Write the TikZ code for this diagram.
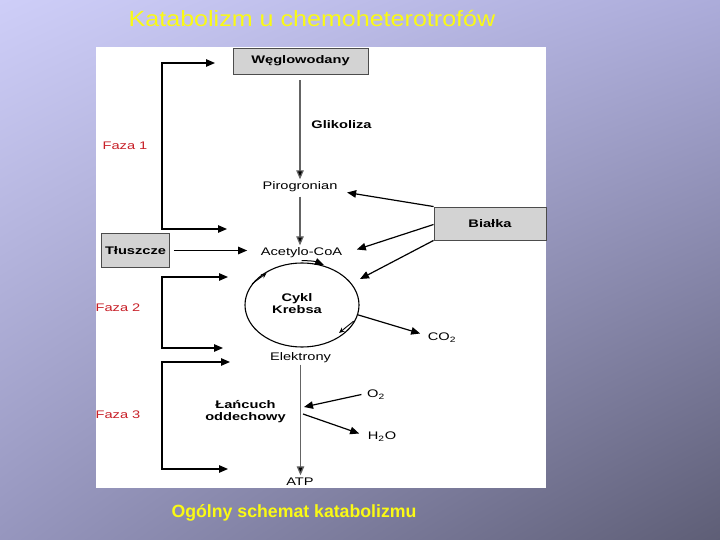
\documentclass[tikz,border=0pt]{standalone}
\usepackage{fontspec}
\setmainfont{Liberation Sans}
\usetikzlibrary{arrows.meta,shapes.geometric,calc,shadings}
\newcommand{\xst}[1]{\scalebox{1.33}[1]{#1}}
\definecolor{bgUL}{RGB}{206,206,248}
\definecolor{bgUR}{RGB}{172,172,218}
\definecolor{bgLL}{RGB}{150,150,190}
\definecolor{bgLR}{RGB}{94,94,118}
\definecolor{ttl}{RGB}{250,250,20}
\definecolor{faza}{RGB}{200,32,40}
\definecolor{boxfill}{RGB}{211,211,211}
\definecolor{vline}{RGB}{100,100,100}
\tikzset{
  lbl/.style={font=\fontsize{11}{13}\selectfont, inner sep=1.5pt, text height=8.5pt, text depth=2.5pt, yshift=-1.5pt},
  blbl/.style={lbl, font=\fontsize{11}{13}\selectfont\bfseries},
  fz/.style={lbl, text=faza},
  grbox/.style={draw=black!70, fill=boxfill, line width=0.9pt, font=\fontsize{11}{13}\selectfont\bfseries},
  arr/.style={-{Triangle[length=9pt,width=7.5pt]}, line width=1.2pt},
  garr/.style={arr, draw=vline, -{Triangle[length=9pt,width=7.5pt,fill=black]}},
  brk/.style={{Triangle[length=9pt,width=7.5pt]}-{Triangle[length=9pt,width=7.5pt]}, line width=1.2pt},
  tick/.style={-{Stealth[length=5.5pt,width=5pt]}, line width=0.9pt}
}
\begin{document}
\begin{tikzpicture}[x=1pt,y=-1pt]
\useasboundingbox (0,0) rectangle (720,540);
\shade[upper left=bgUL, upper right=bgUR, lower left=bgLL, lower right=bgLR] (0,0) rectangle (720,540);
\fill[white] (96,47) rectangle (546,488);

% titles
\node[text=ttl, font=\fontsize{22}{26}\selectfont, inner sep=0pt] (title) at (312,19) {\scalebox{1.14}[1]{Katabolizm u chemoheterotrofów}};
\node[text=ttl, font=\fontsize{17.7}{21}\selectfont\bfseries, inner sep=0pt] (caption) at (294,513) {Ogólny schemat katabolizmu};

% boxes
\node[grbox, minimum width=135pt, minimum height=26pt] (wegl) at (300.5,61) {\xst{Węglowodany}};
\node[grbox, minimum width=112pt, minimum height=33pt] (bialka) at (490,223.5) {\xst{Białka}};
\node[grbox, minimum width=67pt, minimum height=34pt] (tlusz) at (135.5,250.5) {\xst{Tłuszcze}};

% labels
\node[blbl] (glik) at (341.5,124) {\xst{Glikoliza}};
\node[lbl] (piro) at (300,185) {\xst{Pirogronian}};
\node[lbl] (acet) at (301.5,251) {\xst{Acetylo-CoA}};
\node[draw, ellipse, line width=1.1pt, minimum width=114pt, minimum height=84pt, inner sep=0pt] (krebs) at (302,305) {};
\node[blbl, align=center, font=\fontsize{11}{12.5}\selectfont\bfseries] (cykl) at (297,309) {\xst{Cykl}\\\xst{Krebsa}};
\node[lbl] (elek) at (300.5,356) {\xst{Elektrony}};
\node[blbl, align=center, font=\fontsize{11}{12}\selectfont\bfseries] (lanc) at (245.5,416) {\xst{Łańcuch}\\\xst{oddechowy}};
\node[lbl] (atp) at (300,481) {\xst{ATP}};
\node[lbl] (o2) at (376,393) {\xst{O\textsubscript{2}}};
\node[lbl] (h2o) at (382,435) {\xst{H\textsubscript{2}O}};
\node[lbl] (co2) at (442,336) {\xst{CO\textsubscript{2}}};
\node[fz] (f1) at (125,145) {\xst{Faza 1}};
\node[fz] (f2) at (118,307) {\xst{Faza 2}};
\node[fz] (f3) at (118,414) {\xst{Faza 3}};

% main vertical chain
\coordinate (wb) at (wegl.south -| piro.north);
\draw[garr, shorten <=6pt] (wb) -- (piro.north);
\draw[garr, shorten <=3pt] (piro.south) -- (piro.south |- acet.north);
\draw[garr] (elek.south) -- (elek.south |- atp.north);

% side inputs
\draw[arr] (bialka.north west) -- ($(piro.east)+(8,6)$);
\draw[arr] ($(bialka.west)+(0,1)$) -- ($(acet.east)+(13,-3)$);
\draw[arr] (bialka.south west) -- ($(krebs.center)+(58,-26)$);
\draw[arr, shorten <=4pt, shorten >=12pt] (tlusz.east) -- (tlusz.east -| acet.west);

% Krebs cycle details
\draw[-{Triangle[length=9pt,width=7pt]}, line width=1pt] ($(acet.south)+(0,1)$) to[bend left=12] ($(krebs.center)+(22,-40)$);
\draw[tick] (krebs.157) -- ($(krebs.138)+(1,1)$);
\draw[tick] ($(krebs.-18)+(-1,-1)$) -- ($(krebs.-40)+(-1,-4)$);
\draw[arr] (krebs.-10) -- ($(co2.west)+(-6,-4)$);

% respiratory chain
\coordinate (jo) at (304,407);
\coordinate (jh) at (303,414);
\draw[arr] ($(o2.west)+(-4,0)$) -- (jo);
\draw[arr] (jh) -- ($(h2o.west)+(-7,-3)$);

% phase brackets
\coordinate (a1) at (215,63);  \coordinate (b1) at (162,63);
\coordinate (c1) at (162,229); \coordinate (d1) at (227,229);
\coordinate (a2) at (228,277); \coordinate (b2) at (162,277);
\coordinate (c2) at (162,348); \coordinate (d2) at (223,348);
\coordinate (a3) at (230,362); \coordinate (b3) at (162,362);
\coordinate (c3) at (162,469); \coordinate (d3) at (228,469);
\draw[brk] (a1) -- (b1) -- (c1) -- (d1);
\draw[brk] (a2) -- (b2) -- (c2) -- (d2);
\draw[brk] (a3) -- (b3) -- (c3) -- (d3);
\end{tikzpicture}
\end{document}
